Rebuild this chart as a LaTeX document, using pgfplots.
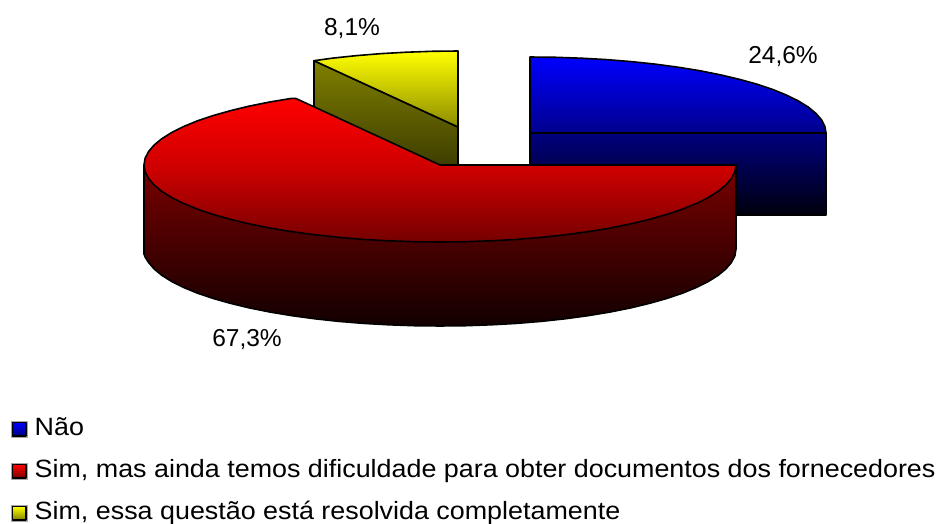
\documentclass[border=0pt]{standalone}
\usepackage{graphicx}
\usepackage{pgfplots}
\pgfplotsset{compat=1.18}
\usepackage{fontspec}
\setmainfont{Liberation Sans}
\definecolor{redtop}{rgb}{1,0,0}
\definecolor{redbot}{rgb}{0.46,0,0}
\definecolor{redmid}{rgb}{0.80,0,0}
\definecolor{rwtop}{rgb}{0.48,0,0}
\definecolor{rwbot}{rgb}{0.07,0,0}
\definecolor{bluetop}{rgb}{0,0,1}
\definecolor{bluebot}{rgb}{0,0,0.55}
\definecolor{bwtop}{rgb}{0,0,0.50}
\definecolor{bwbot}{rgb}{0,0,0.05}
\definecolor{yeltop}{rgb}{1,1,0}
\definecolor{yelbot}{rgb}{0.55,0.55,0}
\definecolor{ywtop}{rgb}{0.50,0.50,0}
\definecolor{ywbot}{rgb}{0.13,0.13,0}
\newcommand{\leg}[1]{\scalebox{1.075}[1]{\fontsize{25}{28}\selectfont #1}}
\begin{document}
\begin{tikzpicture}
\path[use as bounding box] (0,0) rectangle (940pt,524pt);
\begin{axis}[
  at={(0,0)}, anchor=south west,
  scale only axis, width=940pt, height=524pt,
  xmin=0, xmax=940, ymin=0, ymax=524, y dir=reverse,
  hide axis, clip=false,
  every axis plot/.append style={no markers, line width=1.6pt, line join=round, draw=black}
]
% blue wall
\addplot[top color=bwtop, bottom color=bwbot] coordinates {(530,133) (826,133) (826,215) (530,215)} -- cycle;
% blue top
\addplot[top color=bluetop, bottom color=bluebot] coordinates {
(530,57) (555.8,57.3) (581.4,58.2) (606.6,59.6) (631.2,61.6) (655.1,64.1) (678,67.2) (699.8,70.7)
(720.3,74.8) (739.3,79.3) (756.7,84.1) (772.5,89.4) (786.3,95) (798.3,100.9) (808.2,107) (815.9,113.4)
(821.5,119.8) (824.9,126.4) (826,133) (530,133)} -- cycle;
% yellow wall
\addplot[top color=ywtop, bottom color=ywbot] coordinates {(314,60.7) (458,127) (458,211) (314,144.7)} -- cycle;
% yellow top
\addplot[top color=yeltop, bottom color=yelbot] coordinates {
(458,51) (432.2,51.3) (406.6,52.2) (381.4,53.6) (356.8,55.6) (332.9,58.1) (314,60.7) (458,127)} -- cycle;
% red wall
\addplot[top color=rwtop, bottom color=rwbot] coordinates {
(736,165) (736,249) (734.9,255.7) (731.5,262.4) (725.9,268.9) (718.2,275.3) (708.3,281.5) (696.3,287.5)
(682.5,293.2) (666.7,298.5) (649.3,303.4) (630.3,308) (609.8,312.1) (588,315.7) (565.1,318.8) (541.2,321.4)
(516.6,323.4) (491.4,324.8) (465.8,325.7) (440,326) (414.2,325.7) (388.6,324.8) (363.4,323.4) (338.8,321.4)
(314.9,318.8) (292,315.7) (270.2,312.1) (249.7,308) (230.7,303.4) (213.3,298.5) (197.5,293.2) (183.7,287.5)
(171.7,281.5) (161.8,275.3) (154.1,268.9) (148.5,262.4) (145.1,257) (144,254) (144,165)} -- cycle;
% red top
\addplot[top color=redtop, bottom color=redbot, middle color=redmid] coordinates {
(736,165) (734.9,171.7) (731.5,178.4) (725.9,184.9) (718.2,191.3) (708.3,197.5) (696.3,203.5) (682.5,209.2)
(666.7,214.5) (649.3,219.4) (630.3,224) (609.8,228.1) (588,231.7) (565.1,234.8) (541.2,237.4) (516.6,239.4)
(491.4,240.8) (465.8,241.7) (440,242) (414.2,241.7) (388.6,240.8) (363.4,239.4) (338.8,237.4) (314.9,234.8)
(292,231.7) (270.2,228.1) (249.7,224) (230.7,219.4) (213.3,214.5) (197.5,209.2) (183.7,203.5) (171.7,197.5)
(161.8,191.3) (154.1,184.9) (148.5,178.4) (145.1,171.7) (144,165) (145.1,158.3) (148.5,151.6) (154.1,145.1)
(161.8,138.7) (171.7,132.5) (183.7,126.5) (197.5,120.8) (213.3,115.5) (230.7,110.6) (249.7,106) (270.2,101.9)
(292,98.3) (296,98.5) (440,165)} -- cycle;
% legend keys
\addplot[draw=gray!70, line width=1pt, fill=white] coordinates {(11,421) (27.5,421) (27.5,437.5) (11,437.5)} -- cycle;
\addplot[top color=bluetop, bottom color=bwtop, line width=1.3pt] coordinates {(12.5,422.5) (26,422.5) (26,436) (12.5,436)} -- cycle;
\addplot[draw=gray!70, line width=1pt, fill=white] coordinates {(11,463) (27.5,463) (27.5,479.5) (11,479.5)} -- cycle;
\addplot[top color=redtop, bottom color=rwtop, line width=1.3pt] coordinates {(12.5,464.5) (26,464.5) (26,478) (12.5,478)} -- cycle;
\addplot[draw=gray!70, line width=1pt, fill=white] coordinates {(11,505) (27.5,505) (27.5,521.5) (11,521.5)} -- cycle;
\addplot[top color=yeltop, bottom color=ywtop, line width=1.3pt] coordinates {(12.5,506.5) (26,506.5) (26,520) (12.5,520)} -- cycle;
% labels
\node[anchor=base,font=\fontsize{24.5}{28}\selectfont] at (axis cs:352,36) {8,1\%};
\node[anchor=base,font=\fontsize{24.5}{28}\selectfont] at (axis cs:783,64) {24,6\%};
\node[anchor=base,font=\fontsize{24.5}{28}\selectfont] at (axis cs:247,346) {67,3\%};
\node[anchor=base west,inner sep=0pt] at (axis cs:34.5,435) {\leg{Não}};
\node[anchor=base west,inner sep=0pt] at (axis cs:34.5,477) {\leg{Sim, mas ainda temos dificuldade para obter documentos dos fornecedores}};
\node[anchor=base west,inner sep=0pt] at (axis cs:34.5,519) {\leg{Sim, essa questão está resolvida completamente}};
\end{axis}
\end{tikzpicture}
\end{document}
